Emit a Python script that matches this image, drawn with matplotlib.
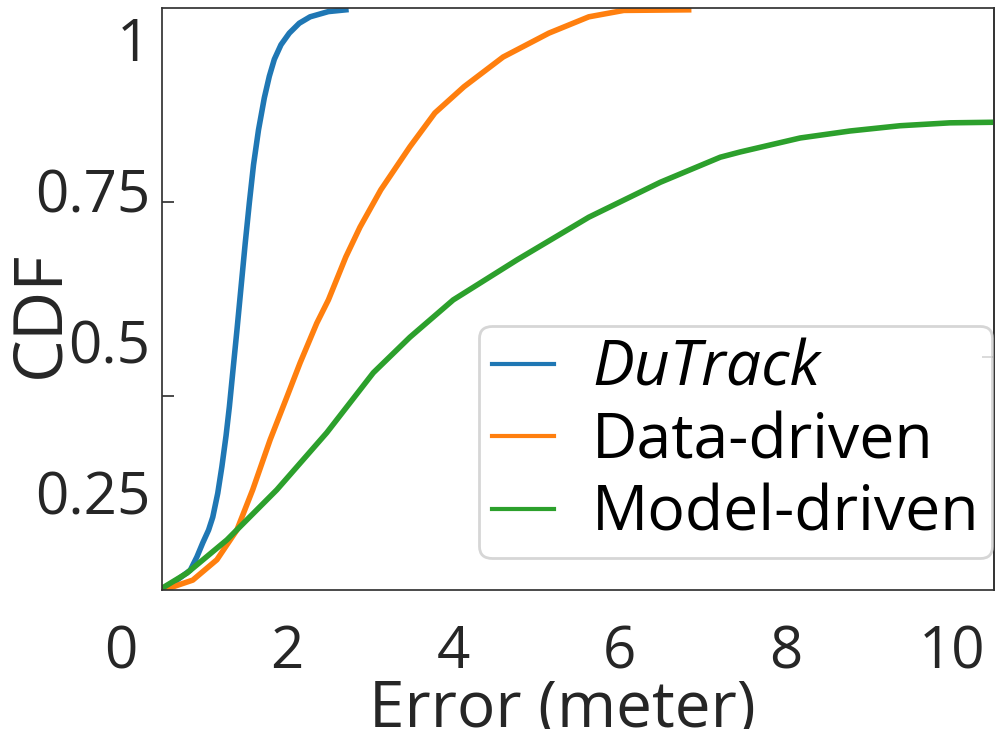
import matplotlib
matplotlib.use("Agg")
import matplotlib.pyplot as plt
from matplotlib.transforms import blended_transform_factory

plt.rcParams['font.family'] = ['Open Sans', 'DejaVu Sans']

# CDF curves (error in meters, cumulative fraction)
dutrack_x = [0.52, 0.84, 0.92, 0.99, 1.06, 1.11, 1.17, 1.22, 1.27, 1.31, 1.35,
             1.40, 1.45, 1.50, 1.55, 1.60, 1.66, 1.73, 1.79, 1.85, 1.93, 2.03,
             2.15, 2.28, 2.50, 2.71]
dutrack_y = [0.0, 0.034, 0.057, 0.081, 0.103, 0.125, 0.166, 0.212, 0.265, 0.315,
             0.373, 0.445, 0.520, 0.595, 0.665, 0.730, 0.790, 0.845, 0.882,
             0.911, 0.936, 0.956, 0.973, 0.984, 0.993, 0.996]

data_x = [0.56, 0.87, 1.16, 1.40, 1.59, 1.80, 2.00, 2.16, 2.36, 2.50, 2.71, 2.88,
          3.13, 3.48, 3.78, 4.13, 4.60, 5.15, 5.63, 6.05, 6.83]
data_y = [0.002, 0.017, 0.052, 0.103, 0.172, 0.258, 0.331, 0.390, 0.458, 0.498,
          0.572, 0.623, 0.687, 0.761, 0.819, 0.864, 0.915, 0.956, 0.984, 0.995,
          0.996]

model_x = [0.5, 0.80, 1.28, 1.88, 2.48, 3.04, 3.48, 4.00, 4.77, 5.63, 6.49, 7.21,
           7.45, 8.17, 8.77, 9.37, 9.97, 10.5]
model_y = [0.003, 0.029, 0.086, 0.172, 0.270, 0.373, 0.434, 0.498, 0.567, 0.640,
           0.700, 0.743, 0.752, 0.776, 0.788, 0.797, 0.802, 0.803]

labels = ['DuTrack', 'Data-driven', 'Model-driven']
colors = ['#1f77b4', '#ff7f0e', '#2ca02c']

xtick_vals = [0, 2, 4, 6, 8, 10]
ytick_text = ['0.25', '0.5', '0.75', '1']
ytick_pos = [0.167, 0.427, 0.687, 0.947]

fig = plt.figure(figsize=(9.96, 7.29), dpi=100)
ax = fig.add_axes([162 / 996, 139 / 729, 832 / 996, 582.5 / 729])

ax.plot(dutrack_x, dutrack_y, color=colors[0], lw=4, label=labels[0],
        solid_joinstyle='round')
ax.plot(data_x, data_y, color=colors[1], lw=4, label=labels[1],
        solid_joinstyle='round')
ax.plot(model_x, model_y, color=colors[2], lw=4, label=labels[2],
        solid_joinstyle='round')

ax.set_xlim(0.5, 10.5)
ax.set_ylim(0, 1)

for s in ax.spines.values():
    s.set_color('0.2')
    s.set_linewidth(1.25)

# x tick labels sit under the axis without tick marks
ax.tick_params(axis='x', which='both', bottom=False, labelbottom=False)
trans = blended_transform_factory(ax.transData, ax.transAxes)
for v in xtick_vals:
    ax.text(v, -0.134, str(v), transform=trans, ha='center', va='baseline',
            fontsize=42, color='0.15', clip_on=False)

ax.set_yticks(ytick_pos, ytick_text, fontsize=42, color='0.15')
ax.tick_params(axis='y', which='major', length=0, pad=8.6)
ax.set_yticks([1 / 3, 2 / 3], minor=True)
ax.tick_params(axis='y', which='minor', direction='in', length=8.6,
               width=1.25, color='0.2')

sec = ax.secondary_yaxis('right')
sec.set_yticks([0.4, 0.8], labels=['', ''])
sec.tick_params(direction='in', length=8.6, width=1.25, color='0.2')
sec.spines['right'].set_color('0.2')
sec.spines['right'].set_linewidth(1.25)

ax.set_xlabel('Error (meter)', fontsize=46, va='baseline', color='0.15')
ax.xaxis.set_label_coords(0.481, -0.236)
ax.set_ylabel('CDF', fontsize=49, va='center', color='0.15')
ax.yaxis.set_label_coords(-0.146, 0.474)

leg = ax.legend(loc='lower right', bbox_to_anchor=(0.9976, 0.0549),
                borderaxespad=0, fontsize=45, handlelength=1.0,
                handletextpad=0.6, labelspacing=0.16, borderpad=0.2)
leg.get_frame().set_linewidth(2)
leg.get_frame().set_edgecolor('0.8')
leg.get_texts()[0].set_style('italic')
for h in leg.get_lines():
    h.set_linewidth(3)

fig.savefig('out.png', dpi=100)
